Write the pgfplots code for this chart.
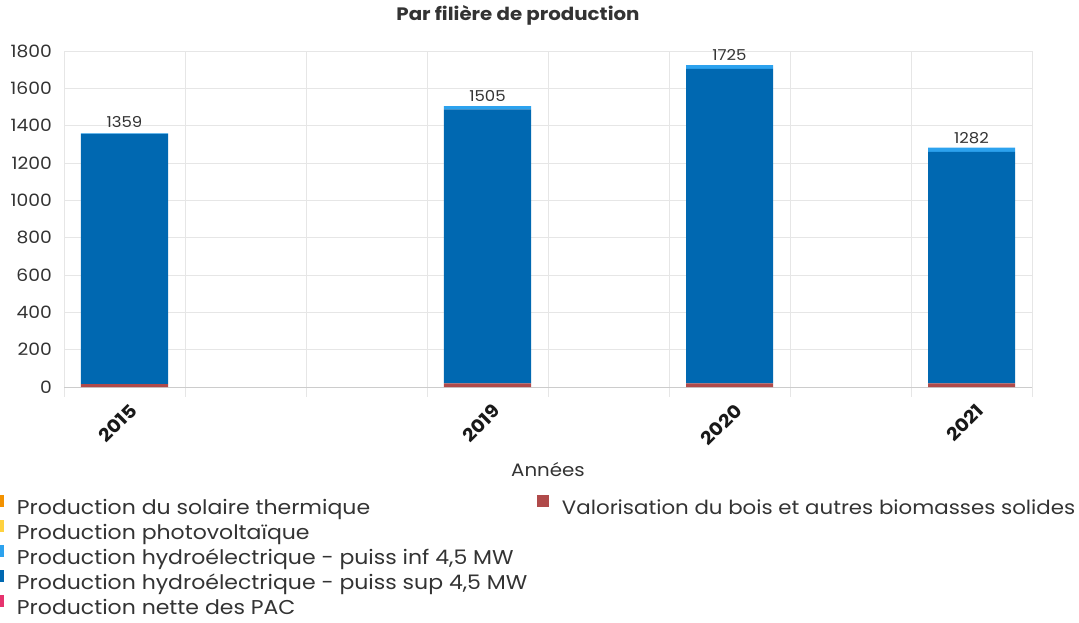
\documentclass[border=0pt]{standalone}
\usepackage{pgfplots}
\pgfplotsset{compat=1.18}
\usepackage{pgfplotstable}
\usepackage{fontspec}
\setmainfont{Poppins}[FakeStretch=1.1]
\definecolor{cdark}{HTML}{0068B1}
\definecolor{clight}{HTML}{2CA2EE}
\definecolor{cred}{HTML}{B04A4A}
\definecolor{corange}{HTML}{F39200}
\definecolor{cyellow}{HTML}{FFD23F}
\definecolor{cpink}{HTML}{E6336E}
\definecolor{ctext}{HTML}{333333}
\definecolor{cgrid}{HTML}{E6E6E6}
\definecolor{caxis}{HTML}{CCCCCC}
\pgfplotstableread{
x red sup inf total
0 15 1341 3 1359
3 20 1467 18 1505
5 20 1684 21 1725
7 20 1239 23 1282
}\data
\newcommand{\lbox}[1]{\makebox[520bp][l]{#1}}
\begin{document}
\begin{tikzpicture}
\useasboundingbox (0,0) rectangle (1079bp,-623bp);
\begin{axis}[
  at={(64bp,-387bp)}, anchor=south west,
  scale only axis, width=968bp, height=336bp,
  xmin=-0.5, xmax=7.5, ymin=0, ymax=1800,
  ybar stacked, bar width=87bp,
  xtick={0,3,5,7}, xticklabels={2015,2019,2020,2021},
  minor xtick={-0.5,0.5,...,7.5},
  ytick={0,200,...,1800},
  xminorgrids=true, ymajorgrids=true, xmajorgrids=false,
  grid style={cgrid, line width=0.8bp},
  minor grid style={cgrid, line width=0.8bp},
  major tick length=0pt, minor tick length=10bp,
  tick align=outside,
  xtick style={draw=none}, ytick style={draw=none},
  minor x tick style={draw=cgrid, line width=0.8bp},
  axis x line*=bottom, axis y line*=left,
  x axis line style={-, draw=caxis, line width=0.9bp},
  y axis line style={draw=none},
  /pgf/number format/assume math mode=true,
  /pgf/number format/1000 sep={},
  yticklabel style={font=\fontsize{17bp}{20bp}\selectfont, text=ctext, anchor=east, inner sep=0pt, xshift=-12bp},
  xticklabel style={font=\fontsize{18bp}{22bp}\selectfont\bfseries, text=black!90, rotate=45, anchor=north east, inner sep=0pt, xshift=-8bp, yshift=-14bp},
  title={Par filière de production},
  title style={font=\fontsize{18bp}{21bp}\selectfont\bfseries, text=ctext, at={(0.469,1)}, anchor=center, yshift=30bp},
  xlabel={Années},
  xlabel style={font=\fontsize{18bp}{21bp}\selectfont, text=ctext, at={(axis description cs:0.5,0)}, anchor=center, yshift=-83bp},
  legend columns=2,
  legend cell align=left,
  legend image code/.code={\fill[#1] (0bp,3bp) rectangle (12bp,15bp);},
  legend style={at={(-0.07438,-0.3214)}, anchor=north west, draw=none, fill=none,
    inner sep=0pt, outer sep=0pt, row sep=0bp,
    font=\fontsize{20bp}{24bp}\selectfont, text=ctext,
    nodes={inner sep=0pt, text height=15bp, text depth=5bp},
    /tikz/every odd column/.append style={column sep=13bp},
    /tikz/every even column/.append style={column sep=0bp}},
]
\addplot[forget plot, fill=cred, draw=none] table[x=x, y=red] {\data};
\addplot[forget plot, fill=cdark, draw=none] table[x=x, y=sup] {\data};
\addplot[forget plot, fill=clight, draw=none,
  point meta=explicit symbolic,
  nodes near coords,
  nodes near coords style={font=\fontsize{15bp}{18bp}\selectfont, text=ctext, anchor=south, inner sep=0pt, yshift=6bp}]
  table[x=x, y=inf, meta=total] {\data};
\addlegendimage{fill=corange, draw=none}
\addlegendentry{\lbox{Production du solaire thermique}}
\addlegendimage{fill=cred, draw=none}
\addlegendentry{\fontsize{19.4bp}{24bp}\selectfont Valorisation du bois et autres biomasses solides}
\addlegendimage{fill=cyellow, draw=none}
\addlegendentry{\lbox{Production photovoltaïque}}
\addlegendimage{empty legend}
\addlegendentry{}
\addlegendimage{fill=clight, draw=none}
\addlegendentry{\lbox{Production hydroélectrique - puiss inf 4,5 MW}}
\addlegendimage{empty legend}
\addlegendentry{}
\addlegendimage{fill=cdark, draw=none}
\addlegendentry{\lbox{Production hydroélectrique - puiss sup 4,5 MW}}
\addlegendimage{empty legend}
\addlegendentry{}
\addlegendimage{fill=cpink, draw=none}
\addlegendentry{\lbox{Production nette des PAC}}
\addlegendimage{empty legend}
\addlegendentry{}
\end{axis}
\end{tikzpicture}
\end{document}
